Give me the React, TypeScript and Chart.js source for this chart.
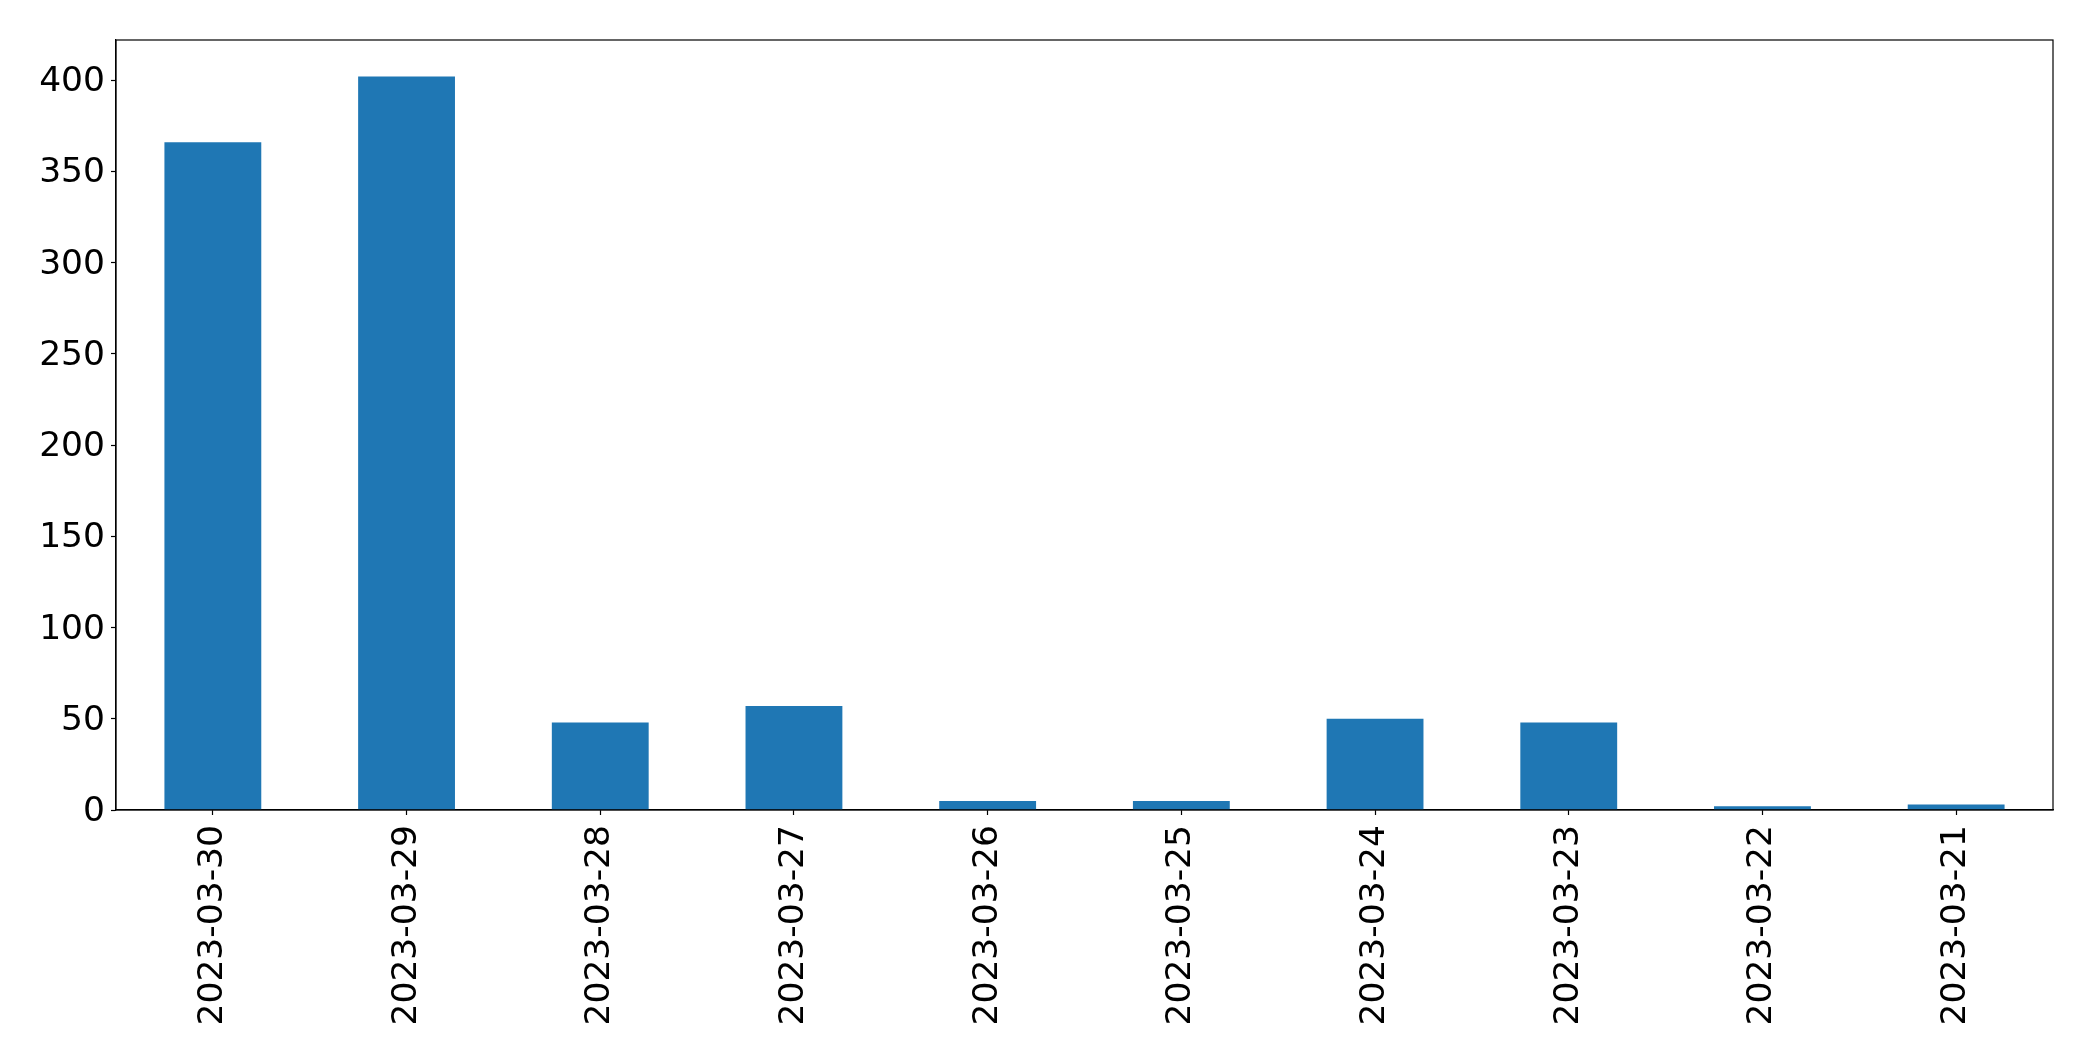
import React, { useEffect, useRef } from "react";
import { Chart, registerables } from "chart.js";

Chart.register(...registerables);

const categories = [
  "2023-03-30",
  "2023-03-29",
  "2023-03-28",
  "2023-03-27",
  "2023-03-26",
  "2023-03-25",
  "2023-03-24",
  "2023-03-23",
  "2023-03-22",
  "2023-03-21",
];
const counts = [366, 402, 48, 57, 5, 5, 50, 48, 2, 3];
const yMax = 422;
const yStep = 50;

const W = 2093;
const H = 1061;
const FONT = { family: "'DejaVu Sans', sans-serif", size: 34.5 };

const framePlugin = {
  id: "frame",
  afterDraw(chart: any) {
    const { ctx, chartArea } = chart;
    ctx.save();
    ctx.strokeStyle = "#000";
    ctx.lineWidth = 1.2;
    ctx.strokeRect(chartArea.left, chartArea.top, chartArea.right - chartArea.left, chartArea.bottom - chartArea.top);
    ctx.restore();
  },
};

export default function App() {
  const ref = useRef<HTMLCanvasElement | null>(null);
  useEffect(() => {
    document.body.style.margin = "0";
    const canvas = ref.current!;
    const chart = new Chart(canvas, {
      type: "bar",
      data: {
        labels: categories,
        datasets: [
          {
            data: counts,
            backgroundColor: "#1f77b4",
            borderWidth: 0,
            barPercentage: 0.5,
            categoryPercentage: 1.0,
          },
        ],
      },
      options: {
        animation: false,
        responsive: false,
        devicePixelRatio: 1,
        layout: { padding: { top: 40, right: 40, left: 0, bottom: 0 } },
        plugins: { legend: { display: false }, tooltip: { enabled: false } },
        scales: {
          x: {
            type: "category",
            offset: true,
            grid: {
              display: true,
              offset: false,
              drawOnChartArea: false,
              drawTicks: true,
              tickLength: 5,
              tickColor: "#000",
              tickWidth: 1.2,
            },
            border: { display: true, color: "#000", width: 1.2 },
            ticks: {
              autoSkip: false,
              minRotation: 90,
              maxRotation: 90,
              padding: 10,
              color: "#000",
              font: FONT,
            },
            afterFit(scale: any) {
              scale.height = H - 810;
            },
          },
          y: {
            min: 0,
            max: yMax,
            grid: {
              display: true,
              drawOnChartArea: false,
              drawTicks: true,
              tickLength: 5,
              tickColor: "#000",
              tickWidth: 1.2,
            },
            border: { display: true, color: "#000", width: 1.2 },
            ticks: {
              stepSize: yStep,
              padding: 6,
              labelOffset: 2,
              color: "#000",
              font: FONT,
            },
            afterBuildTicks(scale: any) {
              scale.ticks = scale.ticks.filter((t: any) => t.value % yStep === 0);
            },
            afterFit(scale: any) {
              scale.width = 116;
            },
          },
        },
      },
      plugins: [framePlugin],
    });
    return () => chart.destroy();
  }, []);
  return (
    <div style={{ width: W, height: H, background: "#fff" }}>
      <canvas ref={ref} width={W} height={H} style={{ display: "block", width: W, height: H }} />
    </div>
  );
}
